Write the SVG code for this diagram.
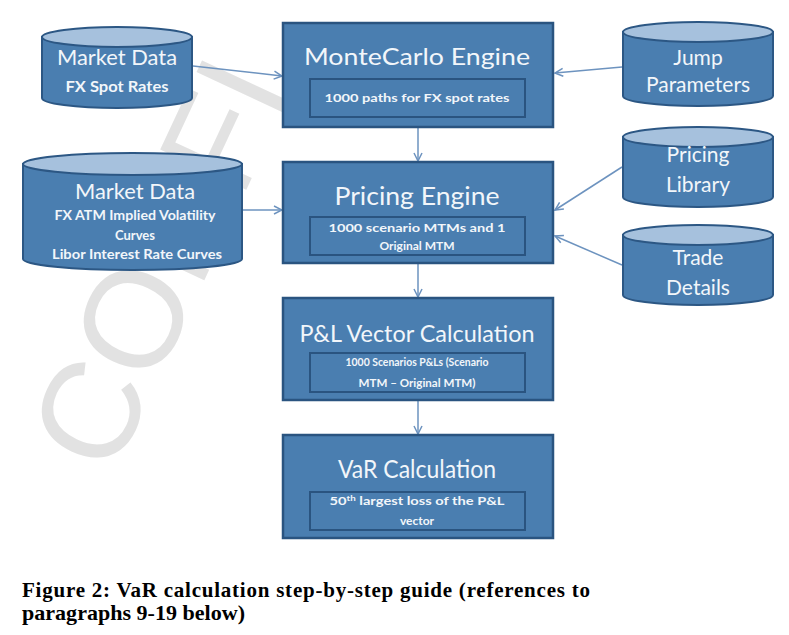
<svg xmlns="http://www.w3.org/2000/svg" width="789" height="635" viewBox="0 0 789 635">
<defs>
<style>
.body{fill:#4a7eb0;stroke:#2c5784;stroke-width:2}
.top{fill:#a6c1dd;stroke:#2c5784;stroke-width:2}
.box{fill:#4a7eb0;stroke:#2a5480;stroke-width:2.5}
.inner{fill:#4a7eb0;stroke:#2a5480;stroke-width:2}
.t{font-family:Lato,"Liberation Sans",sans-serif;fill:#f2f6fa;text-anchor:middle}
.b{font-weight:bold}
.conn{stroke:#6d93bf;stroke-width:1.5;fill:none;marker-end:url(#ah)}
.cap{font-family:"Liberation Serif","Times New Roman",serif;font-weight:bold;font-size:21px;fill:#000}
.wm{font-family:"Liberation Sans",Arial,sans-serif;font-size:138px;fill:#e2e2e2}
</style>
<marker id="ah" viewBox="0 0 10 10" refX="9" refY="5" markerWidth="10" markerHeight="10" markerUnits="userSpaceOnUse" orient="auto">
<path d="M1,1 L9,5 L1,9" fill="none" stroke="#6d93bf" stroke-width="1.5"/>
</marker>
</defs>
<rect width="789" height="635" fill="#fff"/>
<text class="wm" transform="translate(112,478) rotate(-65)">CONFI</text>

<g id="connectors">
<line class="conn" x1="193" y1="66" x2="282" y2="76"/>
<line class="conn" x1="622" y1="67" x2="555" y2="73"/>
<line class="conn" x1="242" y1="210" x2="282" y2="210"/>
<line class="conn" x1="622" y1="167" x2="555" y2="210"/>
<line class="conn" x1="622" y1="265" x2="555" y2="236"/>
<line class="conn" x1="418" y1="127" x2="418" y2="161"/>
<line class="conn" x1="418" y1="263" x2="418" y2="297"/>
<line class="conn" x1="418" y1="400" x2="418" y2="434"/>
</g>

<g id="market-data-fx">
<path class="body" d="M42,37 L42,98 A75,10 0 0 0 192,98 L192,37 Z"/>
<ellipse class="top" cx="117" cy="37" rx="75" ry="10"/>
<text class="t" x="117" y="65" font-size="21" textLength="120" lengthAdjust="spacingAndGlyphs">Market Data</text>
<text class="t b" x="117" y="92" font-size="15" textLength="103" lengthAdjust="spacingAndGlyphs">FX Spot Rates</text>
</g>

<g id="montecarlo-engine">
<rect class="box" x="283" y="23" width="270" height="104"/>
<rect class="inner" x="310" y="79" width="215" height="38"/>
<text class="t" x="417" y="65" font-size="24" textLength="226" lengthAdjust="spacingAndGlyphs">MonteCarlo Engine</text>
<text class="t b" x="417" y="102" font-size="12" textLength="185" lengthAdjust="spacingAndGlyphs">1000 paths for FX spot rates</text>
</g>

<g id="jump-parameters">
<path class="body" d="M623,32 L623,96 A75,10 0 0 0 773,96 L773,32 Z"/>
<ellipse class="top" cx="698" cy="32" rx="75" ry="10"/>
<text class="t" x="698" y="65" font-size="21">Jump</text>
<text class="t" x="698" y="92" font-size="21">Parameters</text>
</g>

<g id="market-data-curves">
<path class="body" d="M23,164 L23,259 A109.5,11 0 0 0 242,259 L242,164 Z"/>
<ellipse class="top" cx="132.5" cy="164" rx="109.5" ry="11"/>
<text class="t" x="135" y="199" font-size="22" textLength="120" lengthAdjust="spacingAndGlyphs">Market Data</text>
<text class="t b" x="135" y="220" font-size="13" textLength="161" lengthAdjust="spacingAndGlyphs">FX ATM Implied Volatility</text>
<text class="t b" x="135" y="240" font-size="13">Curves</text>
<text class="t b" x="137" y="259" font-size="13" textLength="170" lengthAdjust="spacingAndGlyphs">Libor Interest Rate Curves</text>
</g>

<g id="pricing-engine">
<rect class="box" x="283" y="162" width="270" height="101"/>
<rect class="inner" x="310" y="217" width="215" height="38"/>
<text class="t" x="417" y="205" font-size="25" textLength="165" lengthAdjust="spacingAndGlyphs">Pricing Engine</text>
<text class="t b" x="417" y="232" font-size="12" textLength="177" lengthAdjust="spacingAndGlyphs">1000 scenario MTMs and 1</text>
<text class="t b" x="417" y="250" font-size="12">Original MTM</text>
</g>

<g id="pricing-library">
<path class="body" d="M623,137 L623,197 A75,10 0 0 0 773,197 L773,137 Z"/>
<ellipse class="top" cx="698" cy="137" rx="75" ry="10"/>
<text class="t" x="698" y="162" font-size="21">Pricing</text>
<text class="t" x="698" y="192" font-size="21">Library</text>
</g>

<g id="trade-details">
<path class="body" d="M623,235 L623,295 A75,10 0 0 0 773,295 L773,235 Z"/>
<ellipse class="top" cx="698" cy="235" rx="75" ry="10"/>
<text class="t" x="698" y="265" font-size="21">Trade</text>
<text class="t" x="698" y="295" font-size="21">Details</text>
</g>

<g id="pl-vector">
<rect class="box" x="283" y="298" width="270" height="102"/>
<rect class="inner" x="310" y="353" width="215" height="39"/>
<text class="t" x="417" y="342" font-size="24" textLength="235" lengthAdjust="spacingAndGlyphs">P&amp;L Vector Calculation</text>
<text class="t b" x="417" y="366" font-size="10.5" textLength="143" lengthAdjust="spacingAndGlyphs">1000 Scenarios P&amp;Ls (Scenario</text>
<text class="t b" x="417" y="387" font-size="10.5" textLength="117" lengthAdjust="spacingAndGlyphs">MTM – Original MTM)</text>
</g>

<g id="var-calculation">
<rect class="box" x="283" y="435" width="270" height="103"/>
<rect class="inner" x="310" y="492" width="215" height="38"/>
<text class="t" x="417" y="478" font-size="25" textLength="158" lengthAdjust="spacingAndGlyphs">VaR Calculation</text>
<text class="t b" x="417" y="505" font-size="12" textLength="175" lengthAdjust="spacingAndGlyphs">50<tspan font-size="8" dy="-4">th</tspan><tspan dy="4"> largest loss of the P&amp;L</tspan></text>
<text class="t b" x="417" y="525" font-size="12">vector</text>
</g>

<g id="caption">
<text class="cap" x="22" y="597" textLength="568" lengthAdjust="spacing">Figure 2: VaR calculation step-by-step guide (references to</text>
<text class="cap" x="22" y="620" textLength="223" lengthAdjust="spacingAndGlyphs">paragraphs 9-19 below)</text>
</g>
</svg>
